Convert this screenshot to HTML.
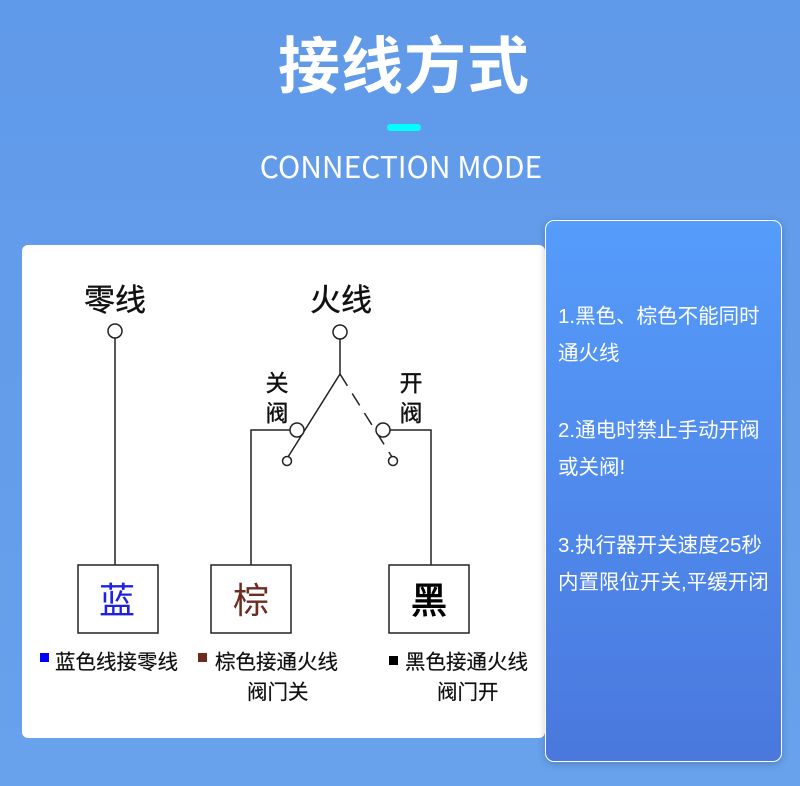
<!DOCTYPE html>
<html><head><meta charset="utf-8"><style>
html,body{margin:0;padding:0}
body{width:800px;height:786px;position:relative;overflow:hidden;background:linear-gradient(180deg,#5f99e9 0%,#68a2ec 100%);font-family:"Liberation Sans","Noto Sans CJK SC",sans-serif}
.t{position:absolute;white-space:nowrap}
#title{left:4px;width:800px;top:28px;text-align:center;color:#fff;font-size:62px;font-weight:bold;line-height:80px;letter-spacing:1px}
#bar{position:absolute;left:387px;top:124px;width:34px;height:7px;border-radius:4px;background:#0ff}
#sub{left:1px;width:800px;top:146px;text-align:center;color:#fff;font-size:30px;line-height:38px;font-family:"Noto Sans CJK SC","Liberation Sans",sans-serif}
#panel{position:absolute;left:22px;top:245px;width:523px;height:493px;background:#fff;border-radius:6px}
#card{position:absolute;left:545px;top:220px;width:235px;height:540px;border:1px solid #fff;border-radius:9px;background:linear-gradient(180deg,#559cfb 0%,#4a78dd 100%);box-shadow:0 2px 8px rgba(0,0,0,.2)}
.c{position:absolute;left:12px;color:#fff;font-size:20.5px;line-height:37px;white-space:nowrap}
</style></head><body>
<div class="t" id="title">接线方式</div>
<div id="bar"></div>
<div class="t" id="sub">CONNECTION MODE</div>
<div id="panel"></div>
<svg style="position:absolute;left:0;top:0" width="800" height="786">
<g stroke="#222" stroke-width="1.5" fill="none">
<line x1="115" y1="338" x2="115" y2="565"/>
<circle cx="115" cy="331" r="7" fill="#fff"/>
<line x1="340" y1="339" x2="340" y2="374"/>
<circle cx="340" cy="332" r="7" fill="#fff"/>
<line x1="340" y1="374" x2="288" y2="457"/>
<line x1="340" y1="374" x2="392" y2="457" stroke-dasharray="14,9"/>
<polyline points="290,430 251,430 251,565"/>
<polyline points="390,430 431,430 431,565"/>
<circle cx="297" cy="430" r="7" fill="#fff"/>
<circle cx="383" cy="430" r="7" fill="#fff"/>
<circle cx="287" cy="461" r="4.5" fill="#fff"/>
<circle cx="393" cy="461" r="4.5" fill="#fff"/>
<rect x="78" y="565" width="80" height="68"/>
<rect x="211" y="565" width="80" height="68"/>
<rect x="389" y="565" width="80" height="68"/>
</g>
<rect x="40" y="653" width="9" height="9" fill="#0000ff"/>
<rect x="198" y="653" width="9" height="9" fill="#6b2d20"/>
<rect x="389" y="656" width="9" height="9" fill="#000"/>
<g font-family="Liberation Sans, Noto Sans CJK SC, sans-serif" fill="#111" stroke="#111" stroke-width="0.4">
<text x="115" y="311" font-size="31" text-anchor="middle">零线</text>
<text x="341" y="311" font-size="31" text-anchor="middle">火线</text>
<text x="277" y="391" font-size="23" text-anchor="middle">关</text>
<text x="277" y="421" font-size="23" text-anchor="middle">阀</text>
<text x="411" y="391" font-size="23" text-anchor="middle">开</text>
<text x="411" y="421" font-size="23" text-anchor="middle">阀</text>
<text x="117" y="613" font-size="36" text-anchor="middle" fill="#2020e0" stroke="none">蓝</text>
<text x="251" y="613" font-size="36" text-anchor="middle" fill="#6b2d20" stroke="none">棕</text>
<text x="429" y="613" font-size="36" text-anchor="middle" fill="#000" stroke="#000" stroke-width="1">黑</text>
<text x="55" y="669" font-size="20.5" stroke-width="0.2">蓝色线接零线</text>
<text x="215" y="669" font-size="20.5" stroke-width="0.2">棕色接通火线</text>
<text x="247" y="699" font-size="20.5" stroke-width="0.2">阀门关</text>
<text x="405" y="669" font-size="20.5" stroke-width="0.2">黑色接通火线</text>
<text x="437" y="699" font-size="20.5" stroke-width="0.2">阀门开</text>
</g>
</svg>
<div id="card">
<div class="c" style="top:77px">1.黑色、棕色不能同时<br>通火线</div>
<div class="c" style="top:191px">2.通电时禁止手动开阀<br>或关阀!</div>
<div class="c" style="top:306px">3.执行器开关速度25秒<br>内置限位开关,平缓开闭</div>
</div>
</body></html>
